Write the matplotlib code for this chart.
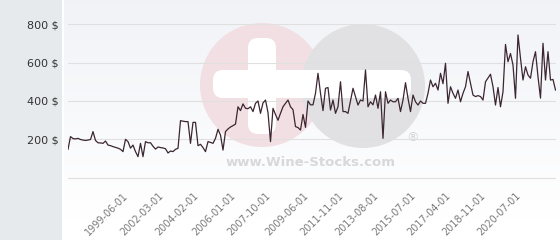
import numpy as np
import matplotlib
matplotlib.use("Agg")
import matplotlib.pyplot as plt
from matplotlib.patches import Circle, FancyBboxPatch, Rectangle

# auction price per bottle in order
prices = [
    149, 215, 205, 203, 206, 200, 197, 195, 197, 200, 241, 195, 183, 182, 180, 192,
    171, 168, 163, 159, 155, 149, 137, 201, 189, 155, 171, 137, 111, 180, 111, 189,
    183, 183, 165, 150, 161, 158, 156, 152, 130, 140, 137, 149, 154, 298, 295, 293,
    293, 180, 289, 289, 168, 175, 158, 137, 189, 185, 180, 206, 253, 223, 145, 241, 255,
    265, 272, 280, 370, 350, 385, 362, 360, 370, 345, 388, 400, 336, 390, 405, 340,
    189, 362, 330, 300, 336, 370, 388, 405, 370, 355, 267, 262, 249, 330, 263, 400, 380,
    380, 440, 544, 440, 350, 466, 470, 353, 405, 336, 370, 500, 345, 345, 336, 400,
    466, 423, 379, 405, 400, 561, 370, 396, 380, 431, 362, 448, 206, 448, 388, 405, 396,
    396, 414, 345, 405, 495, 414, 345, 431, 396, 379, 400, 388, 388, 440, 509, 474,
    492, 457, 544, 490, 596, 388, 474, 440, 414, 457, 396, 440, 474, 553, 492, 431,
    423, 428, 423, 405, 500, 520, 539, 474, 379, 470, 370, 448, 694, 604, 647, 587,
    414, 743, 622, 509, 578, 535, 518, 604, 656, 526, 415, 700, 509, 656, 509, 512, 457,
]

# which sale carries a date label on the axis
tick_index = [22, 36, 50, 65, 79, 94, 108, 122, 137, 151, 165, 179]
tick_dates = ['1999-06-01', '2002-03-01', '2004-02-01', '2006-01-01',
              '2007-10-01', '2009-06-01', '2011-11-01', '2013-08-01',
              '2015-07-01', '2017-04-01', '2018-11-01', '2020-07-01']

y_ticks = [0, 200, 400, 600, 800]
y_labels = ['', '200 $', '400 $', '600 $', '800 $']

fig = plt.figure(figsize=(5.6, 2.4), dpi=100)
fig.patch.set_facecolor('white')

# background layer, in pixel units
bg = fig.add_axes([0, 0, 1, 1], zorder=0)
bg.set_xlim(0, 560)
bg.set_ylim(240, 0)
bg.axis('off')

bg.add_patch(Rectangle((0, 0), 62, 240, color='#e6eaed', lw=0))
top = np.array([0.945, 0.952, 0.968])
fade = np.linspace(0, 1, 240)[:, None, None]
grad = top + (1 - top) * np.clip(fade * 1.1, 0, 1)
bg.imshow(grad, extent=(64, 560, 240, 0), aspect='auto', interpolation='bilinear')

# watermark logo
bg.add_patch(Circle((262, 85), 62, color='#f2dfe3', lw=0))
bg.add_patch(Circle((363, 86), 62, color='#e1e1e3', lw=0))
bg.add_patch(FancyBboxPatch((258, 48), 8, 76, boxstyle='round,pad=10', color='white', lw=0))
bg.add_patch(FancyBboxPatch((223, 80), 178, 8, boxstyle='round,pad=10', color='white', lw=0))
bg.text(311, 162, 'www.Wine-Stocks.com', ha='center', va='center',
        fontsize=9.5, fontweight='bold', color='#d8d8da')
bg.text(413, 138, '\u00ae', ha='center', va='center', fontsize=9, color='#d4d4d6')
bg.set_xlim(0, 560)
bg.set_ylim(240, 0)

# chart
ax = fig.add_axes([68 / 560, 55 / 240, 487.5 / 560, 185 / 240], zorder=1)
ax.patch.set_alpha(0)
ax.plot(range(len(prices)), prices, color='#3b2631', lw=0.9)

ax.set_xlim(0, len(prices) - 1)
ax.set_ylim(-36.4, 924.7)
ax.set_yticks(y_ticks)
ax.set_yticklabels(y_labels, fontsize=8, color='#333333')
ax.set_xticks(tick_index)
ax.set_xticklabels(tick_dates, rotation=45, ha='right', va='top',
                   rotation_mode='anchor', fontsize=7, color='#7a7a7a')
ax.tick_params(axis='y', length=0, pad=6.5)
ax.tick_params(axis='x', length=0, pad=4)
ax.grid(axis='y', color='#e0e0e0', lw=0.8)
ax.grid(axis='x', visible=False)
for s in ax.spines.values():
    s.set_visible(False)

fig.savefig('out.png', dpi=100)
